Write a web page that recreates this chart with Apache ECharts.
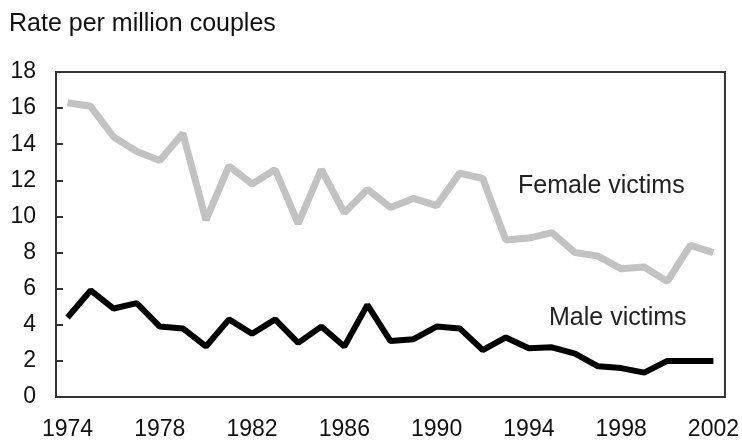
<!DOCTYPE html>
<html>
<head>
<meta charset="utf-8">
<style type="text/css">
html, body { margin: 0; padding: 0; background: #fff; }
#chart { width: 742px; height: 443px; }
</style>
</head>
<body>
<div id="chart"></div>
<script src="https://cdn.jsdelivr.net/npm/echarts@6/dist/echarts.min.js"></script>
<script type="text/javascript">
var years = [];
for (var y = 1974; y <= 2002; y++) years.push(String(y));

var female = [16.3, 16.1, 14.4, 13.6, 13.1, 14.6, 9.8, 12.8, 11.8, 12.6,
              9.6, 12.6, 10.2, 11.5, 10.5, 11.0, 10.6, 12.4, 12.1, 8.7,
              8.8, 9.1, 8.0, 7.8, 7.1, 7.2, 6.4, 8.4, 8.0];
var male = [4.4, 5.9, 4.9, 5.2, 3.9, 3.8, 2.8, 4.3, 3.5, 4.3,
            3.0, 3.9, 2.8, 5.1, 3.1, 3.2, 3.9, 3.8, 2.6, 3.3,
            2.7, 2.75, 2.4, 1.7, 1.6, 1.35, 2.0, 2.0, 2.0];

var chart = echarts.init(document.getElementById('chart'));
var font = 'Liberation Sans, Arial, sans-serif';

option = {
    animation: false,
    grid: {
        left: 56,
        right: 17,
        top: 72,
        bottom: 46,
        show: true,
        borderColor: '#333',
        borderWidth: 2
    },
    xAxis: {
        type: 'category',
        data: years,
        boundaryGap: true,
        axisLine: { lineStyle: { color: '#333', width: 2 } },
        axisTick: { inside: true, length: 8, interval: 0, lineStyle: { color: '#333', width: 2 } },
        axisLabel: {
            interval: 3,
            margin: 21,
            color: '#111',
            fontSize: 23,
            fontFamily: font
        }
    },
    yAxis: {
        type: 'value',
        min: 0,
        max: 18,
        interval: 2,
        splitLine: { show: false },
        axisLine: { show: true, lineStyle: { color: '#333', width: 2 } },
        axisTick: { show: true, inside: true, length: 7, lineStyle: { color: '#333', width: 2 } },
        axisLabel: {
            margin: 20,
            color: '#111',
            fontSize: 23,
            fontFamily: font
        }
    },
    graphic: [
        { type: 'text', left: 9, top: 12, style: { text: 'Rate per million couples', fontSize: 25, fontFamily: font, fill: '#111' } },
        { type: 'text', left: 518, top: 174, style: { text: 'Female victims', fontSize: 25, fontFamily: font, fill: '#222' } },
        { type: 'text', left: 549, top: 306, style: { text: 'Male victims', fontSize: 25, fontFamily: font, fill: '#222' } }
    ],
    series: [
        {
            name: 'Female victims',
            type: 'line',
            data: female,
            symbol: 'none',
            lineStyle: { color: '#c2c2c2', width: 7 }
        },
        {
            name: 'Male victims',
            type: 'line',
            data: male,
            symbol: 'none',
            lineStyle: { color: '#000', width: 6 }
        }
    ]
};
chart.setOption(option, true);
</script>
</body>
</html>
